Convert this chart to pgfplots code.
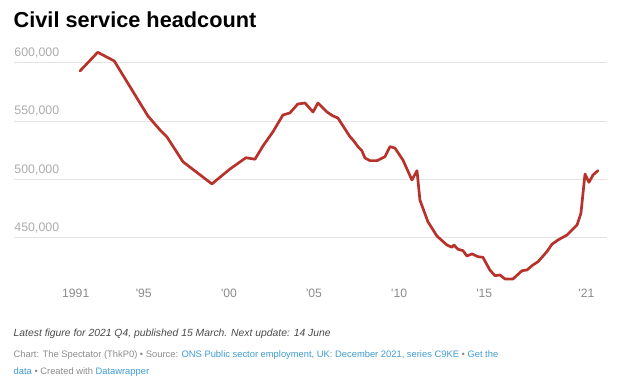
\documentclass[border=0pt]{standalone}
\usepackage{pgfplots}
\pgfplotsset{compat=1.18}
\usepackage{fontspec}
\setmainfont{Liberation Sans}
\definecolor{linered}{HTML}{B8322C}
\definecolor{gridc}{HTML}{E3E3E3}
\definecolor{ylab}{HTML}{ABABAB}
\definecolor{xlab}{HTML}{8A8A8A}
\definecolor{notec}{HTML}{4A4A4A}
\definecolor{srcc}{HTML}{8C8C8C}
\definecolor{linkc}{HTML}{3D9BCF}
\begin{document}
\begin{tikzpicture}[x=1bp,y=1bp]
\path (0,0) rectangle (620,389);
\begin{axis}[
  at={(14.3bp,104.8bp)}, anchor=south west,
  scale only axis, width=593bp, height=239bp,
  xmin=1987.39, xmax=2022.23, ymin=410000, ymax=615000,
  axis line style={draw=none},
  major tick length=0pt,
  scaled y ticks=false,
  xtick={1991,1995,2000,2005,2010,2015,2021},
  xticklabels={1991,\textquotesingle 95,\textquotesingle 00,\textquotesingle 05,\textquotesingle 10,\textquotesingle 15,\textquotesingle 21},
  ytick={450000,500000,550000,600000},
  yticklabels={{450,000},{500,000},{550,000},{600,000}},
  ymajorgrids,
  grid style={gridc, line width=0.9bp},
  yticklabel style={anchor=south west, inner sep=0pt, yshift=4.4bp, font=\fontsize{12.4}{13}\selectfont, text=ylab},
  xticklabel style={anchor=base, inner sep=0pt, yshift=-13.1bp, font=\fontsize{12.2}{13}\selectfont, text=xlab},
  clip=false,
]
\addplot[linered, line width=2.7bp, line join=round, line cap=round] coordinates {
(1991.25,592900) (1992.29,608900) (1993.26,601500) (1995.24,554300) (1995.95,542300)
(1996.36,536300) (1997.30,515000) (1999.00,496000) (2000.06,508800) (2001.00,518500)
(2001.53,517200) (2002.00,528600) (2002.59,540800) (2003.17,555100) (2003.58,556900)
(2004.05,564600) (2004.47,565400) (2004.94,557700) (2005.23,565400) (2005.76,557700)
(2006.11,554300) (2006.40,552600) (2006.82,543100) (2007.11,536500) (2007.29,533700)
(2007.58,528000) (2007.81,524500) (2007.99,518300) (2008.28,516000) (2008.70,516000)
(2009.17,519400) (2009.46,528000) (2009.75,526800) (2010.22,516600) (2010.75,499400)
(2011.05,507400) (2011.22,482200) (2011.69,463600) (2012.22,451300) (2012.81,443600)
(2013.10,441700) (2013.22,443600) (2013.45,440000) (2013.75,438800) (2013.98,434200)
(2014.28,436000) (2014.63,433600) (2014.92,433100) (2015.33,422200) (2015.63,417300)
(2015.92,417900) (2016.04,416500) (2016.22,414500) (2016.69,414500) (2017.22,421600)
(2017.51,422200) (2017.86,426500) (2018.16,429300) (2018.68,437900) (2018.98,444300)
(2019.33,447900) (2019.86,452200) (2020.45,460800) (2020.68,470800) (2020.92,504500)
(2021.15,497400) (2021.39,503700) (2021.68,507400)
};
\end{axis}
\node[anchor=base west, inner sep=0pt] at (13.5,361.7) {\fontsize{21.8}{22}\selectfont\bfseries Civil service headcount};
\node[anchor=base west, inner sep=0pt, text=notec] at (13.5,52.3) {\fontsize{10.4}{12}\selectfont\itshape Latest figure for 2021 Q4, published 15 March. Next update: 14 June};
\node[anchor=base west, inner sep=0pt, text=srcc] at (13.5,31.3) {\fontsize{9.4}{11}\selectfont Chart: The Spectator (ThkP0) • Source: \textcolor{linkc}{ONS Public sector employment, UK: December 2021, series C9KE} • \textcolor{linkc}{Get the}};
\node[anchor=base west, inner sep=0pt, text=srcc] at (13.5,15.0) {\fontsize{9.4}{11}\selectfont \textcolor{linkc}{data} • Created with \textcolor{linkc}{Datawrapper}};
\end{tikzpicture}
\end{document}
